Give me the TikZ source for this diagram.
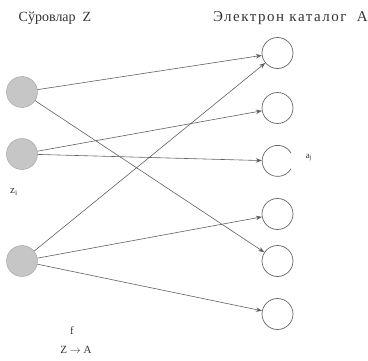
\documentclass[tikz,border=0pt]{standalone}
\usepackage{fontspec}
\setmainfont{Liberation Serif}
\usetikzlibrary{arrows.meta}
\colorlet{colorMAP}{gray!75!black}
\colorlet{colorSRC}{gray!45}
\colorlet{colorCAT}{gray!80!black}
\tikzset{
   every path/.style={>={Stealth[length=6pt,width=4.5pt]}},
   src/.style={circle,fill=colorSRC,draw=colorSRC!80!black,minimum size=31pt,inner sep=0pt},
   cat/.style={circle,draw=colorCAT,line width=0.7pt,minimum size=31pt,inner sep=0pt},
   catopen/.style={circle,minimum size=31pt,inner sep=0pt},
   map/.style={->,color=colorMAP,line width=0.6pt},
   lab/.style={color=black!80,font=\fontsize{11}{13}\selectfont},
}
\begin{document}
\begin{tikzpicture}[x=1pt,y=1pt]
      \useasboundingbox (0,0) rectangle (368,360);
      \node[lab,font=\fontsize{14}{16}\selectfont] (tz) at (55,342) {Сўровлар\ \ Z};
      \node[lab,font=\fontsize{15}{17}\selectfont\addfontfeature{LetterSpace=10},anchor=east,inner sep=0pt] (ta) at (368,342) {Электрон каталог\ \ A};
      \node[src] (z1) at (22,268) {};
      \node[src] (z2) at (22,206) {};
      \node[src] (z3) at (22,99) {};
      \node[cat] (a1) at (277.5,307) {};
      \node[cat] (a2) at (277.5,252) {};
      \node[catopen] (a3) at (277.5,199) {};
      \node[cat] (a4) at (277.5,146) {};
      \node[cat] (a5) at (277.5,99) {};
      \node[cat] (a6) at (277.5,46) {};
      \draw[colorCAT,line width=0.7pt] (a3.30) arc[start angle=30,end angle=330,radius=15.5pt];
      \node[lab,font=\fontsize{9}{11}\selectfont] (aj) at (309,202) {a\textsubscript{j}};
      \node[lab] (zi) at (14,168) {z\textsubscript{i}};
      \node[lab] (f) at (72,29) {f};
      \node[lab] (zta) at (76,10) {Z $\rightarrow$ A};
      \draw[map] (z1) -- (a1);
      \draw[map] (z1) -- (a5);
      \draw[map] (z2) -- (a2);
      \draw[map] (z2) -- (a3);
      \draw[map] (z3) -- (a1);
      \draw[map] (z3) -- (a4);
      \draw[map] (z3) -- (a6);
    \end{tikzpicture}
\end{document}
